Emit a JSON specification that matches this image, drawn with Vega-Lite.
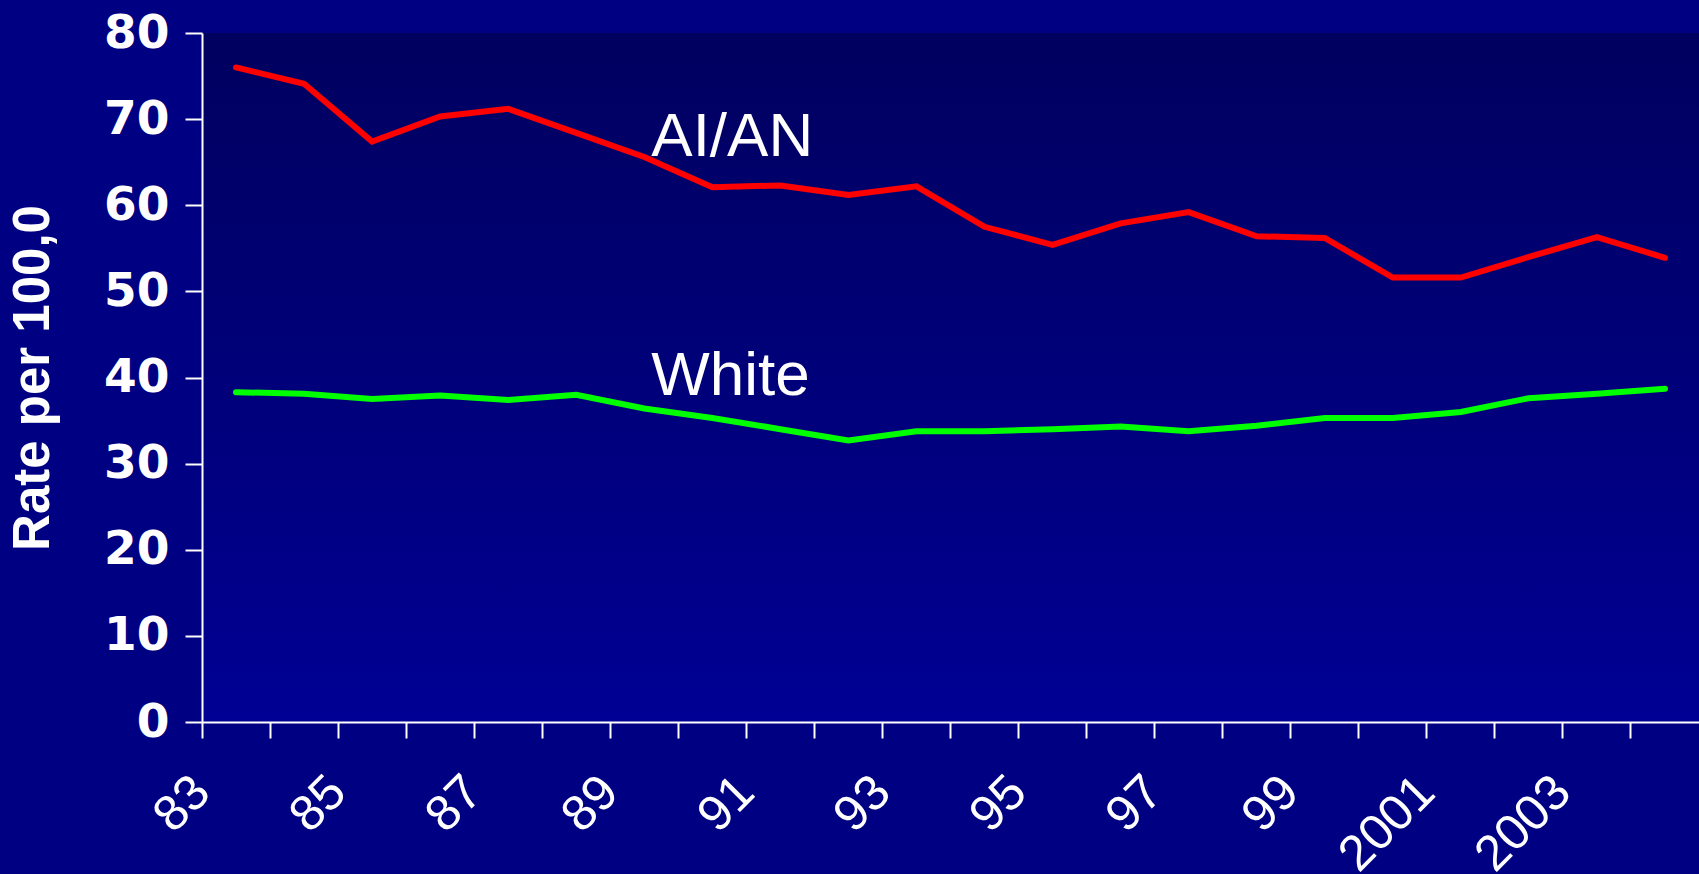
{
  "$schema": "https://vega.github.io/schema/vega-lite/v6.json",
  "width": 1497,
  "height": 689,
  "autosize": {"type": "none"},
  "padding": {"left": 202, "top": 33, "right": 0, "bottom": 152},
  "background": "#000082",
  "config": {
    "view": {
      "stroke": null,
      "fill": {
        "gradient": "linear",
        "x1": 0, "y1": 0, "x2": 0, "y2": 1,
        "stops": [
          {"offset": 0, "color": "#00005f"},
          {"offset": 1, "color": "#000094"}
        ]
      }
    },
    "font": "Liberation Sans"
  },
  "datasets": {
    "rates": [
      {"year": "83", "group": "AI/AN", "rate": 76.0},
      {"year": "84", "group": "AI/AN", "rate": 74.1},
      {"year": "85", "group": "AI/AN", "rate": 67.4},
      {"year": "86", "group": "AI/AN", "rate": 70.3},
      {"year": "87", "group": "AI/AN", "rate": 71.2},
      {"year": "88", "group": "AI/AN", "rate": 68.4},
      {"year": "89", "group": "AI/AN", "rate": 65.6},
      {"year": "90", "group": "AI/AN", "rate": 62.1},
      {"year": "91", "group": "AI/AN", "rate": 62.3},
      {"year": "92", "group": "AI/AN", "rate": 61.2},
      {"year": "93", "group": "AI/AN", "rate": 62.2},
      {"year": "94", "group": "AI/AN", "rate": 57.5},
      {"year": "95", "group": "AI/AN", "rate": 55.4},
      {"year": "96", "group": "AI/AN", "rate": 57.9},
      {"year": "97", "group": "AI/AN", "rate": 59.2},
      {"year": "98", "group": "AI/AN", "rate": 56.4},
      {"year": "99", "group": "AI/AN", "rate": 56.2},
      {"year": "2000", "group": "AI/AN", "rate": 51.6},
      {"year": "2001", "group": "AI/AN", "rate": 51.6},
      {"year": "2002", "group": "AI/AN", "rate": 54.0},
      {"year": "2003", "group": "AI/AN", "rate": 56.3},
      {"year": "2004", "group": "AI/AN", "rate": 53.9},
      {"year": "83", "group": "White", "rate": 38.3},
      {"year": "84", "group": "White", "rate": 38.1},
      {"year": "85", "group": "White", "rate": 37.5},
      {"year": "86", "group": "White", "rate": 37.9},
      {"year": "87", "group": "White", "rate": 37.4},
      {"year": "88", "group": "White", "rate": 38.0},
      {"year": "89", "group": "White", "rate": 36.4},
      {"year": "90", "group": "White", "rate": 35.3},
      {"year": "91", "group": "White", "rate": 34.0},
      {"year": "92", "group": "White", "rate": 32.7},
      {"year": "93", "group": "White", "rate": 33.75},
      {"year": "94", "group": "White", "rate": 33.75},
      {"year": "95", "group": "White", "rate": 34.0},
      {"year": "96", "group": "White", "rate": 34.3},
      {"year": "97", "group": "White", "rate": 33.75},
      {"year": "98", "group": "White", "rate": 34.4},
      {"year": "99", "group": "White", "rate": 35.3},
      {"year": "2000", "group": "White", "rate": 35.3},
      {"year": "2001", "group": "White", "rate": 36.0},
      {"year": "2002", "group": "White", "rate": 37.6},
      {"year": "2003", "group": "White", "rate": 38.1},
      {"year": "2004", "group": "White", "rate": 38.7}
    ],
    "labels": [
      {"year": "89", "rate": 65.7, "text": "AI/AN"},
      {"year": "89", "rate": 38.0, "text": "White"}
    ]
  },
  "layer": [
    {
      "data": {"name": "rates"},
      "mark": {"type": "line", "strokeWidth": 6, "strokeCap": "round"},
      "encoding": {
        "x": {
          "field": "year",
          "type": "nominal",
          "scale": {
            "type": "band",
            "domain": ["83","84","85","86","87","88","89","90","91","92","93","94","95","96","97","98","99","2000","2001","2002","2003","2004"],
            "paddingInner": 0,
            "paddingOuter": 0
          },
          "axis": {
            "title": null,
            "bandPosition": 0,
            "grid": false,
            "domainColor": "#ffffff",
            "domainWidth": 2,
            "tickColor": "#ffffff",
            "tickWidth": 2,
            "tickSize": 16,
            "labelColor": "#ffffff",
            "labelFont": "Liberation Sans",
            "labelFontSize": 50,
            "labelFontWeight": "normal",
            "labelAngle": -45,
            "labelAlign": "right",
            "labelBaseline": "middle",
            "labelPadding": 46,
            "labelOffset": -34,
            "labelOverlap": false,
            "labelBound": false,
            "labelFlush": false,
            "labelExpr": "indexof(['83','85','87','89','91','93','95','97','99','2001','2003'], datum.value) >= 0 ? datum.value : ''"
          }
        },
        "y": {
          "field": "rate",
          "type": "quantitative",
          "scale": {"domain": [0, 80], "nice": false, "zero": true},
          "axis": {
            "title": "Rate per 100,0",
            "values": [0, 10, 20, 30, 40, 50, 60, 70, 80],
            "grid": false,
            "domainColor": "#ffffff",
            "domainWidth": 2,
            "tickColor": "#ffffff",
            "tickWidth": 2,
            "tickSize": 17,
            "labelColor": "#ffffff",
            "labelFont": "DejaVu Sans",
            "labelFontSize": 47,
            "labelFontWeight": "bold",
            "labelPadding": 16,
            "labelFlush": false,
            "labelBound": false,
            "titleColor": "#ffffff",
            "titleFont": "Liberation Sans",
            "titleFontSize": 51,
            "titleFontWeight": "bold",
            "titlePadding": 44
          }
        },
        "color": {
          "field": "group",
          "type": "nominal",
          "scale": {"domain": ["AI/AN", "White"], "range": ["#ff0000", "#00ff00"]},
          "legend": null
        }
      }
    },
    {
      "data": {"name": "labels"},
      "mark": {
        "type": "text",
        "align": "left",
        "baseline": "alphabetic",
        "dx": 7,
        "font": "Liberation Sans",
        "fontSize": 62,
        "color": "#ffffff"
      },
      "encoding": {
        "x": {"field": "year", "type": "nominal"},
        "y": {"field": "rate", "type": "quantitative"},
        "text": {"field": "text"}
      }
    }
  ]
}
